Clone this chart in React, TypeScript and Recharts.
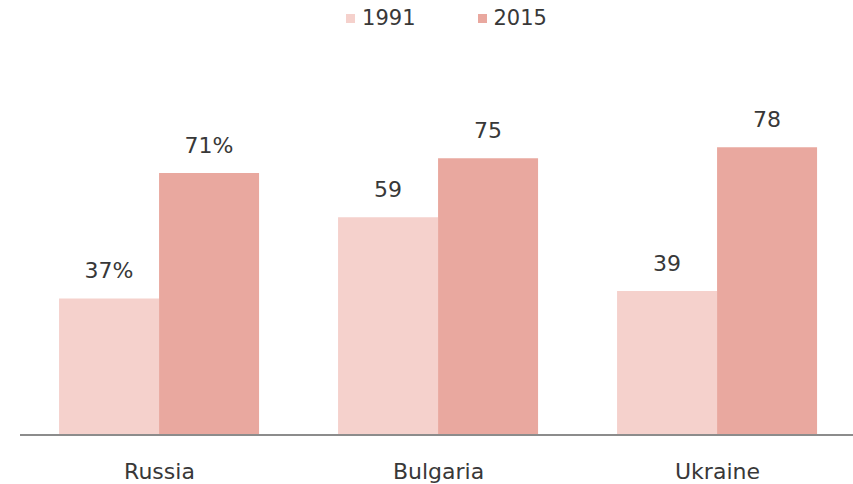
import React from "react";
import { BarChart, Bar, XAxis, YAxis, Legend, LabelList } from "recharts";

const categories = ["Russia", "Bulgaria", "Ukraine"];
const values1991 = [37, 59, 39];
const values2015 = [71, 75, 78];
const seriesNames = ["1991", "2015"];
const colors = ["#f5d1cc", "#e9a89f"];

const data = categories.map((c, i) => ({
  name: c,
  v1991: values1991[i],
  v2015: values2015[i],
}));

const FONT = "'DejaVu Sans', sans-serif";
const TEXT = "#383838";

const renderLabel = (props: any) => {
  const { x, y, width, value, index } = props;
  const text = index === 0 ? `${value}%` : `${value}`;
  return (
    <text
      x={x + width / 2}
      y={y - 20}
      textAnchor="middle"
      fill={TEXT}
      fontFamily={FONT}
      fontSize={22}
    >
      {text}
    </text>
  );
};

const CategoryTick = (props: any) => {
  const { x, y, payload } = props;
  return (
    <text x={x} y={y + 36} textAnchor="middle" fill={TEXT} fontFamily={FONT} fontSize={22}>
      {payload.value}
    </text>
  );
};

const LegendContent = () => (
  <div
    style={{
      display: "flex",
      justifyContent: "center",
      fontFamily: FONT,
      fontSize: 21,
      color: TEXT,
      height: 36,
      alignItems: "center",
      paddingLeft: 40,
      boxSizing: "border-box",
    }}
  >
    {seriesNames.map((n, i) => (
      <div key={n} style={{ display: "flex", alignItems: "center", marginLeft: i === 0 ? 0 : 62 }}>
        <span
          style={{
            width: 9,
            height: 9,
            background: colors[i],
            display: "inline-block",
            marginRight: 7,
          }}
        />
        <span>{n}</span>
      </div>
    ))}
  </div>
);

export default function App() {
  return (
    <div style={{ position: "absolute", left: 0, top: 0, width: 853, height: 484, background: "#fff", overflow: "hidden" }}>
      <BarChart
        width={853}
        height={484}
        data={data}
        margin={{ top: 30, right: -4, bottom: 0, left: 20 }}
        barCategoryGap="14%"
        barGap={0}
      >
        <Legend verticalAlign="top" align="center" content={<LegendContent />} wrapperStyle={{ top: 0, left: 0, width: 853 }} />
        <XAxis
          dataKey="name"
          axisLine={{ stroke: "#8c8c8c", strokeWidth: 2 }}
          tickLine={false}
          height={49}
          tick={<CategoryTick />}
        />
        <YAxis hide domain={[0, 100]} />
        <Bar dataKey="v1991" fill={colors[0]} isAnimationActive={false}>
          <LabelList dataKey="v1991" content={renderLabel} />
        </Bar>
        <Bar dataKey="v2015" fill={colors[1]} isAnimationActive={false}>
          <LabelList dataKey="v2015" content={renderLabel} />
        </Bar>
      </BarChart>
    </div>
  );
}
